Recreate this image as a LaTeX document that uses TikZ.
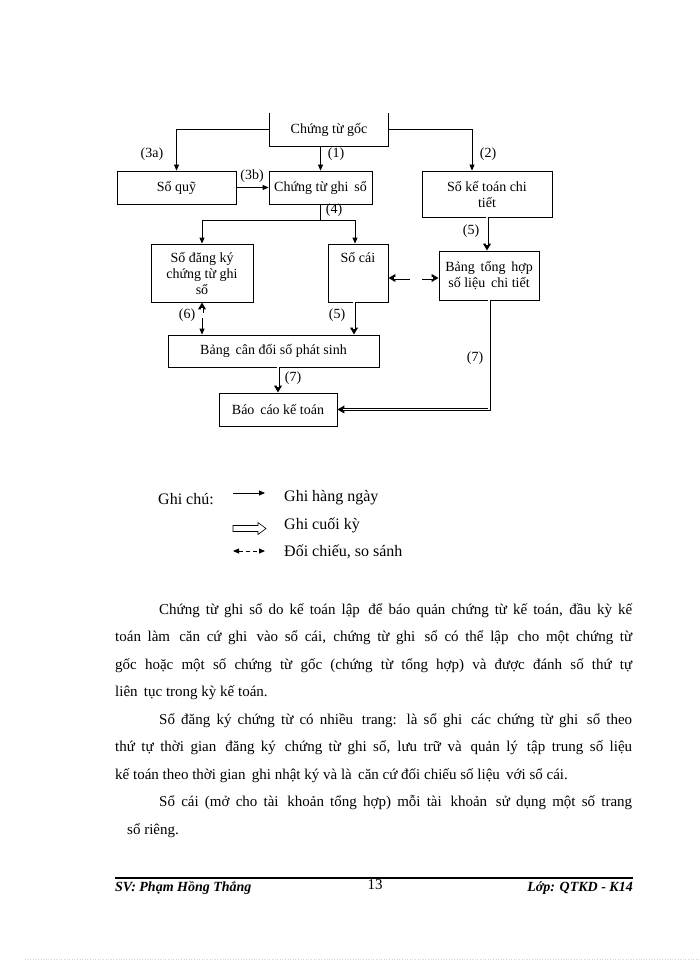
\documentclass[tikz,border=0pt]{standalone}
\usepackage{fontspec}
\setmainfont{Liberation Serif}
\usetikzlibrary{arrows.meta}

\begin{document}
\begin{tikzpicture}[x=1pt,y=-1pt,
    box/.style={draw,line width=.8pt,inner sep=2pt,align=center,font=\fontsize{14}{16}\selectfont},
    tag/.style={inner sep=0pt,font=\fontsize{14}{15}\selectfont},
    daily/.style={line width=.8pt,-{Triangle[length=6pt,width=5pt]}},
    period/.style={line width=3pt,-{Triangle[length=7pt,width=7.5pt]},postaction={draw=white,line width=1.2pt,shorten >=6pt,-}},
    body/.style={anchor=base west,inner sep=0pt,font=\fontsize{15}{18}\selectfont},
    legend/.style={anchor=west,inner sep=0pt,font=\fontsize{16}{18}\selectfont},
    foot/.style={inner sep=0pt,font=\fontsize{14}{16}\selectfont}]
      \useasboundingbox (0,0) rectangle (700,960);

      \node [box,draw=none,minimum width=118pt,minimum height=33pt] (goc) at (329,129.5) {Chứng từ gốc};
      \draw [line width=.8pt] (goc.north west) -- (goc.south west) -- (goc.south east) -- (goc.north east);
      \node [box,minimum width=119pt,minimum height=33pt] (quy) at (176.5,187.5) {Sổ quỹ};
      \node [box,minimum width=103pt,minimum height=33pt] (ctgs) at (320.5,187.5) {Chứng từ ghi\, sổ};
      \node [box,minimum width=130pt,minimum height=46pt] (sktct) at (487,194) {Sổ kế toán chi\\tiết};
      \node [box,minimum width=102pt,minimum height=58pt] (dk) at (202,273) {Sổ đăng ký\\chứng từ ghi\\sổ};
      \node [box,minimum width=60pt,minimum height=58pt,label={[tag,anchor=north,yshift=-9pt]north:Sổ cái}] (socai) at (358,273) {};
      \node [box,minimum width=100pt,minimum height=49pt] (bth) at (489,275.5) {Bảng\, tổng\, hợp\\số liệu\, chi tiết};
      \node [box,minimum width=211pt,minimum height=32pt] (bcd) at (273.5,351) {Bảng\, cân đối số phát sinh};
      \node [box,minimum width=118pt,minimum height=33pt] (bckt) at (278,409.5) {Báo\, cáo kế toán};

      \node [tag] (l3a) at (152,154) {(3a)};
      \node [tag] (l1) at (336,154) {(1)};
      \node [tag] (l2) at (488,154) {(2)};
      \node [tag] (l3b) at (252,176) {(3b)};
      \node [tag] (l4) at (334,210) {(4)};
      \node [tag] (l5a) at (471,231) {(5)};
      \node [tag] (l6) at (187,315) {(6)};
      \node [tag] (l5b) at (337,315) {(5)};
      \node [tag] (l7a) at (293,378) {(7)};
      \node [tag] (l7b) at (475,358) {(7)};

      \draw [daily] (goc.west) -| (quy.north);
      \draw [daily] (goc.east) -| ([xshift=-15pt]sktct.north);
      \draw [daily] (goc.south -| ctgs.north) -- (ctgs.north);
      \draw [daily] (quy.east) -- (ctgs.west);
      \path (ctgs.south) ++(0,16) coordinate (split);
      \draw [line width=.8pt] (ctgs.south) -- (split);
      \draw [daily] (split) -| (dk.north);
      \draw [daily] (split) -| ([xshift=-3pt]socai.north);
      \draw [period] (sktct.south) -- (sktct.south |- bth.north);
      \path ([yshift=-5pt]socai.east) ++(22,0) coordinate (cm1) ++(12,0) coordinate (cm2);
      \draw [period] (cm1) -- (cm1 -| socai.east);
      \draw [period] (cm2) -- (cm2 -| bth.west);
      \path (dk.south) ++(0,11) coordinate (m6a) ++(0,5) coordinate (m6b);
      \draw [period] (m6a) -- (dk.south);
      \draw [daily] (m6b) -- (dk.south |- bcd.north);
      \draw [period] ([xshift=-4pt]socai.south) -- ([xshift=-4pt]socai.south |- bcd.north);
      \draw [period] (bckt.north |- bcd.south) -- (bckt.north);
      \draw [period] (bth.south) |- (bckt.east);

      \node [legend] (gc) at (158,499) {Ghi chú:};
      \coordinate (d1a) at (233,493); \coordinate (d1b) at (265,493);
      \coordinate (d3a) at (233,551); \coordinate (d3b) at (265,551);
      \draw [daily] (d1a) -- (d1b);
      \draw [line width=.6pt] (233,525.5) -- (258,525.5) -- (258,522.5) -- (266,528.5)
            -- (258,534.5) -- (258,531.5) -- (233,531.5) -- cycle;
      \draw [line width=.8pt,dash pattern=on 4pt off 3pt,{Triangle[length=6pt,width=5pt]}-{Triangle[length=6pt,width=5pt]}] (d3a) -- (d3b);
      \node [legend] (t1) at (284,498) {Ghi hàng ngày};
      \node [legend] (t2) at (284,525) {Ghi cuối kỳ};
      \node [legend] (t3) at (284,552) {Đối chiếu, so sánh};

      \node [body] (p1a) at (159,614) {\makebox[473pt][s]{Chứng từ ghi sổ do kế toán lập\, để báo quản chứng từ kế toán, đầu kỳ kế}};
      \node [body] (p1b) at (115,641.5) {\makebox[517pt][s]{toán làm\, căn cứ ghi\, vào sổ cái, chứng từ ghi\, sổ có thể lập\, cho một chứng từ}};
      \node [body] (p1c) at (115,669) {\makebox[517pt][s]{gốc hoặc một số chứng từ gốc (chứng từ tổng hợp) và được đánh số thứ tự}};
      \node [body] (p1d) at (115,696.5) {liên\, tục trong kỳ kế toán.};
      \node [body] (p2a) at (159,724) {\makebox[473pt][s]{Sổ đăng ký chứng từ có nhiều\, trang: là sổ ghi\, các chứng từ ghi\, sổ theo}};
      \node [body] (p2b) at (115,751.5) {\makebox[517pt][s]{thứ tự thời gian\, đăng ký\, chứng từ ghi sổ, lưu trữ và\, quản lý\, tập trung số liệu}};
      \node [body] (p2c) at (115,779) {kế toán theo thời gian\, ghi nhật ký và là\, căn cứ đối chiếu số liệu\, với sổ cái.};
      \node [body] (p3a) at (159,806.5) {\makebox[473pt][s]{Sổ cái (mở cho tài\, khoản tổng hợp) mỗi tài\, khoản\, sử dụng một số trang}};
      \node [body] (p3b) at (127,834) {sổ riêng.};

      \draw [line width=1.3pt] (115,878) coordinate (fl) -- (633,878) coordinate (fr);
      \node [foot,anchor=base west] (sv) at (115,891) {\bfseries\itshape SV: Phạm Hồng Thắng};
      \node [foot,anchor=base] (pg) at (375,889) {\fontsize{15}{16}\selectfont 13};
      \node [foot,anchor=base east] (lop) at (633,891) {\bfseries\itshape Lớp: QTKD - K14};
      \draw [gray!35,dotted,line width=.6pt] (25,959) -- (700,959);
\end{tikzpicture}
\end{document}
